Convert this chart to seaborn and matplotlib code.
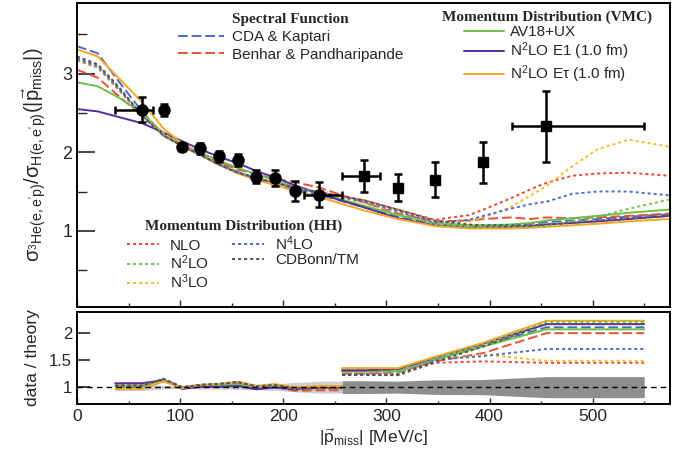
import numpy as np
import matplotlib
matplotlib.use("Agg")
import matplotlib.pyplot as plt
import seaborn as sns

# momentum grid (MeV/c) for the theory curves, includes the data positions
grid = [0, 20, 40, 63, 84, 102, 119, 138, 156, 174, 192, 211, 235,
        278, 311, 347, 380, 394, 420, 440, 455, 480, 505, 535, 575]

# theory curves: sigma ratio 3He/H
cda_kaptari = [3.35, 3.26, 2.91, 2.52, 2.22, 2.08, 1.97, 1.85, 1.75, 1.67, 1.60, 1.53, 1.46,
               1.30, 1.18, 1.09, 1.06, 1.06, 1.07, 1.09, 1.11, 1.13, 1.15, 1.18, 1.21]
benhar = [3.05, 2.95, 2.72, 2.47, 2.22, 2.08, 1.98, 1.87, 1.78, 1.72, 1.66, 1.62, 1.55,
          1.36, 1.22, 1.12, 1.13, 1.15, 1.17, 1.15, 1.17, 1.16, 1.17, 1.19, 1.22]
av18_ux = [2.89, 2.84, 2.70, 2.50, 2.24, 2.10, 2.00, 1.89, 1.80, 1.72, 1.64, 1.56, 1.48,
           1.32, 1.20, 1.10, 1.07, 1.07, 1.08, 1.10, 1.13, 1.16, 1.19, 1.23, 1.27]
n2lo_e1 = [2.55, 2.52, 2.45, 2.37, 2.25, 2.14, 2.04, 1.94, 1.86, 1.76, 1.68, 1.58, 1.47,
           1.30, 1.16, 1.07, 1.04, 1.04, 1.05, 1.06, 1.08, 1.10, 1.12, 1.15, 1.19]
n2lo_etau = [3.31, 3.22, 2.95, 2.64, 2.30, 2.11, 1.98, 1.84, 1.73, 1.65, 1.58, 1.51, 1.43,
             1.26, 1.15, 1.06, 1.03, 1.03, 1.03, 1.04, 1.05, 1.07, 1.09, 1.12, 1.15]
hh_nlo = [3.17, 3.08, 2.80, 2.47, 2.21, 2.08, 1.97, 1.84, 1.74, 1.67, 1.61, 1.55, 1.49,
          1.39, 1.27, 1.14, 1.20, 1.27, 1.41, 1.53, 1.61, 1.70, 1.73, 1.74, 1.70]
hh_n2lo = [3.18, 3.09, 2.81, 2.47, 2.21, 2.08, 1.97, 1.84, 1.74, 1.67, 1.61, 1.55, 1.49,
           1.36, 1.24, 1.08, 1.05, 1.05, 1.05, 1.05, 1.06, 1.12, 1.18, 1.28, 1.40]
hh_n3lo = [3.20, 3.11, 2.83, 2.48, 2.24, 2.09, 1.97, 1.84, 1.74, 1.67, 1.61, 1.55, 1.49,
           1.36, 1.24, 1.10, 1.12, 1.17, 1.30, 1.45, 1.57, 1.82, 2.04, 2.16, 2.07]
hh_n4lo = [3.19, 3.10, 2.82, 2.47, 2.21, 2.08, 1.97, 1.84, 1.74, 1.67, 1.61, 1.55, 1.49,
           1.37, 1.25, 1.10, 1.14, 1.19, 1.28, 1.34, 1.37, 1.47, 1.50, 1.50, 1.45]
hh_cdbonn = [3.22, 3.12, 2.84, 2.47, 2.21, 2.08, 1.97, 1.84, 1.74, 1.67, 1.61, 1.55, 1.49,
             1.39, 1.27, 1.13, 1.08, 1.07, 1.07, 1.07, 1.08, 1.10, 1.13, 1.16, 1.19]

# data: circles (first kinematics) and squares (second kinematics)
circ_x = [63, 84, 102, 119, 138, 156, 174, 192, 211, 235]
circ_y = [2.54, 2.54, 2.07, 2.05, 1.95, 1.90, 1.69, 1.67, 1.51, 1.46]
circ_yerr = [0.16, 0.08, 0.05, 0.07, 0.07, 0.08, 0.08, 0.10, 0.13, 0.16]
circ_xlo = [26, 0, 0, 0, 0, 0, 0, 0, 0, 15]
circ_xhi = [11, 0, 0, 0, 0, 0, 0, 0, 0, 22]

sq_x = [278, 311, 347, 394, 455]
sq_y = [1.70, 1.55, 1.65, 1.87, 2.33]
sq_yerr = [0.20, 0.17, 0.22, 0.26, 0.45]
sq_xlo = [21, 0, 0, 0, 33]
sq_xhi = [16, 0, 0, 0, 95]

blue, red, green = "#4a6cc6", "#e8503a", "#6cbf4b"
purple, orange, yellow, grey = "#5a2d9c", "#f5a623", "#f2c12e", "#555555"
long_dash = (0, (5, 2))
short_dash = (0, (1.6, 1.5))

curves = [
    ("CDA & Kaptari", cda_kaptari, blue, long_dash),
    ("Benhar & Pandharipande", benhar, red, long_dash),
    ("AV18+UX", av18_ux, green, "-"),
    (r"N$^2$LO E1 (1.0 fm)", n2lo_e1, purple, "-"),
    (r"N$^2$LO E$\mathrm{\tau}$ (1.0 fm)", n2lo_etau, orange, "-"),
    ("NLO", hh_nlo, "#ee4a3c", short_dash),
    (r"N$^2$LO", hh_n2lo, "#78c050", short_dash),
    (r"N$^3$LO", hh_n3lo, yellow, short_dash),
    (r"N$^4$LO", hh_n4lo, "#4f6fd0", short_dash),
    ("CDBonn/TM", hh_cdbonn, grey, short_dash),
]

sns.set_theme(style="ticks")
plt.rcParams["font.family"] = ["Liberation Sans", "DejaVu Sans"]
plt.rcParams["mathtext.fontset"] = "custom"
plt.rcParams["mathtext.rm"] = "Liberation Sans"
plt.rcParams["mathtext.it"] = "Liberation Sans:italic"
plt.rcParams["mathtext.bf"] = "Liberation Sans:bold"

fig = plt.figure(figsize=(6.87, 4.49), dpi=100)
ax = fig.add_axes([0.1121, 0.3163, 0.8632, 0.677])
ax2 = fig.add_axes([0.1121, 0.1002, 0.8632, 0.2049])

grid_arr = np.array(grid)
ci = np.searchsorted(grid_arr, circ_x)
si = np.searchsorted(grid_arr, sq_x)

# x ranges for the ratio panel, from the outer bin edges
x1 = [circ_x[0] - circ_xlo[0]] + circ_x + [circ_x[-1] + circ_xhi[-1]]
x2 = [sq_x[0] - sq_xlo[0]] + sq_x + [sq_x[-1] + sq_xhi[-1]]

# relative data uncertainty band
rel1 = np.array(circ_yerr) / np.array(circ_y)
rel2 = np.array(sq_yerr) / np.array(sq_y)
rel1 = np.r_[rel1[0], rel1, rel1[-1]]
rel2 = np.r_[rel2[0], rel2, rel2[-1]]
ax2.fill_between(x1, 1 - rel1, 1 + rel1, color="#cfcfcf", lw=0, zorder=1)
ax2.fill_between(x2, 1 - rel2, 1 + rel2, color="#8e8e8e", lw=0, zorder=1)

handles = []
for label, vals, col, ls in curves:
    sns.lineplot(x=grid, y=vals, ax=ax, color=col, lw=1.4, linestyle=ls,
                 sort=False, legend=False)
    line = ax.lines[-1]
    line.set_label(label)
    handles.append(line)

    v = np.array(vals)
    r1 = np.array(circ_y) / v[ci]
    r2 = np.array(sq_y) / v[si]
    r1 = np.r_[r1[0], r1, r1[-1]]
    r2 = np.r_[r2[0], r2, r2[-1]]
    sns.lineplot(x=x1, y=r1, ax=ax2, color=col, lw=1.4, linestyle=ls,
                 sort=False, legend=False, zorder=2)
    sns.lineplot(x=x2, y=r2, ax=ax2, color=col, lw=1.4, linestyle=ls,
                 sort=False, legend=False, zorder=2)

ax.errorbar(circ_x, circ_y, yerr=circ_yerr, xerr=[circ_xlo, circ_xhi], fmt="o",
            color="black", ms=8, elinewidth=1.8, capsize=3, capthick=1.8, zorder=5)
ax.errorbar(sq_x, sq_y, yerr=sq_yerr, xerr=[sq_xlo, sq_xhi], fmt="s",
            color="black", ms=7, elinewidth=1.8, capsize=3, capthick=1.8, zorder=5)

ax2.axhline(1, color="black", lw=1, ls=(0, (4, 3)), zorder=3)

ax.set_xlim(0, 575)
ax.set_ylim(0.03, 3.9)
ax2.set_xlim(0, 575)
ax2.set_ylim(0.69, 2.38)

ax.set_yticks([1, 2, 3])
ax.set_yticks([0.5, 1.5, 2.5, 3.5], minor=True)
ax.set_xticks([0, 100, 200, 300, 400, 500])
ax.set_xticks([50, 150, 250, 350, 450, 550], minor=True)
ax.tick_params(axis="y", which="major", direction="in", length=13, width=1.2, labelsize=13)
ax.tick_params(axis="y", which="minor", direction="in", length=7, width=1.0)
ax.tick_params(axis="x", which="major", direction="in", length=5, width=1.0, labelbottom=False)
ax.tick_params(axis="x", which="minor", direction="in", length=3, width=1.0)

ax2.set_yticks([1, 1.5, 2])
ax2.set_yticklabels(["1", "1.5", "2"])
ax2.set_xticks([0, 100, 200, 300, 400, 500])
ax2.set_xticks([50, 150, 250, 350, 450, 550], minor=True)
ax2.tick_params(axis="y", which="major", direction="in", length=9, width=1.2, labelsize=12)
ax2.tick_params(axis="x", which="major", direction="in", length=4, width=1.0, labelsize=12.5)
ax2.tick_params(axis="x", which="minor", direction="in", length=2.5, width=1.0)

for a in (ax, ax2):
    for s in a.spines.values():
        s.set_linewidth(1.4)
        s.set_color("black")

ax.set_ylabel(r"$\mathrm{\sigma}_{^3\mathrm{He(e,e'p)}}/\mathrm{\sigma}_{\mathrm{H(e,e'p)}}"
              r"(|\vec{\mathrm{p}}_{\mathrm{miss}}|)$", fontsize=14.5)
ax.yaxis.set_label_coords(-0.048, 0.5)
ax2.set_ylabel("data / theory", fontsize=12.5)
ax2.yaxis.set_label_coords(-0.062, 0.5)
ax2.set_xlabel(r"$|\vec{\mathrm{p}}_{\mathrm{miss}}|$ [MeV/c]", fontsize=12.5, labelpad=2)

title_font = {"family": "Liberation Serif", "weight": "bold", "size": 11}
leg1 = ax.legend(handles=handles[0:2], title="Spectral Function", loc="upper left",
                 bbox_to_anchor=(0.157, 0.992), frameon=False, fontsize=11,
                 title_fontproperties=title_font, borderpad=0, handlelength=3.0,
                 handletextpad=0.55, labelspacing=0.25)
ax.add_artist(leg1)
leg2 = ax.legend(handles=handles[2:5], title="Momentum Distribution (VMC)", loc="upper left",
                 bbox_to_anchor=(0.602, 1.0), frameon=False, fontsize=11,
                 title_fontproperties=title_font, borderpad=0, handlelength=2.6,
                 handletextpad=0.4, labelspacing=0.08)
ax.add_artist(leg2)
leg3 = ax.legend(handles=handles[5:10], title="Momentum Distribution (HH)", loc="upper left",
                 bbox_to_anchor=(0.072, 0.312), frameon=False, fontsize=11, ncol=2,
                 title_fontproperties=title_font, borderpad=0, handlelength=2.1,
                 handletextpad=0.7, labelspacing=0.05, columnspacing=1.5)

fig.savefig("out.png", dpi=100)
